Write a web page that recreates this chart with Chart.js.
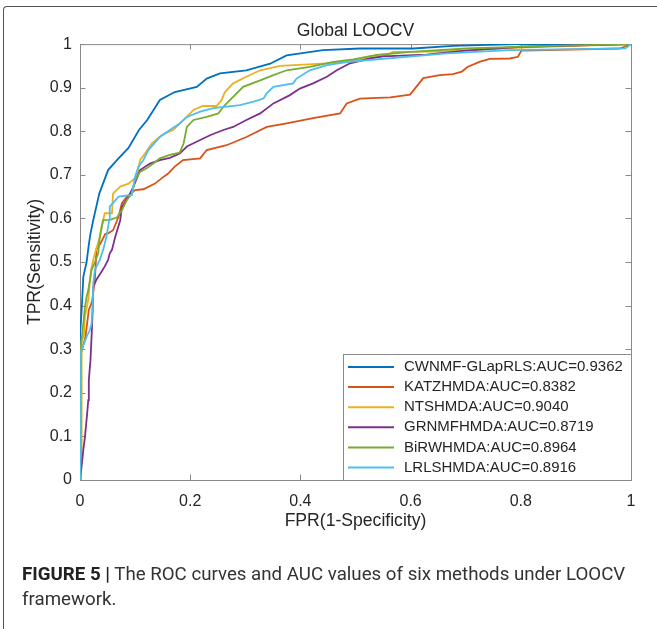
<!DOCTYPE html>
<html>
<head>
<meta charset="utf-8">
<script src="https://cdn.jsdelivr.net/npm/chart.js@4.4.1/dist/chart.umd.min.js"></script>
<style>
  body { margin: 0; background: #fff; }
  #wrap { position: relative; width: 657px; height: 629px; overflow: hidden; }
  #frame {
    position: absolute; left: 3px; top: 6px; width: 720px; height: 720px;
    border-left: 1.5px solid #555; border-top: 1.5px solid #555;
    border-top-left-radius: 4px;
  }
  #roc { position: absolute; left: 0; top: 0; }
  .caption {
    position: absolute; left: 22px; top: 562px; white-space: nowrap;
    font-family: Roboto, "Liberation Sans", sans-serif; font-size: 18.7px;
    line-height: 25px; color: #333;
  }
  .caption b { font-weight: bold; color: #222; }
</style>
</head>
<body>
<div id="wrap">
  <div id="frame"></div>
  <canvas id="roc" width="657" height="629"></canvas>
  <div class="caption"><b>FIGURE 5 |</b> The ROC curves and AUC values of six methods under LOOCV<br>framework.</div>
</div>
<script>
const methods = [
    'CWNMF-GLapRLS:AUC=0.9362',
    'KATZHMDA:AUC=0.8382',
    'NTSHMDA:AUC=0.9040',
    'GRNMFHMDA:AUC=0.8719',
    'BiRWHMDA:AUC=0.8964',
    'LRLSHMDA:AUC=0.8916'
];
const colors = ['#0072BD', '#D95319', '#EDB120', '#7E2F8E', '#77AC30', '#4DBEEE'];

// ROC points (false positive rate / true positive rate) per method
const cwnmfFpr = [0, 0, 0.003, 0.006, 0.012, 0.016, 0.019, 0.024, 0.035, 0.051, 0.067, 0.088, 0.107, 0.122, 0.145, 0.172, 0.212, 0.230, 0.254, 0.302, 0.345, 0.375, 0.441, 0.508, 0.605, 0.677, 0.79, 1];
const cwnmfTpr = [0, 0.33, 0.39, 0.466, 0.50, 0.54, 0.565, 0.596, 0.657, 0.711, 0.734, 0.762, 0.803, 0.826, 0.872, 0.890, 0.902, 0.921, 0.933, 0.94, 0.955, 0.974, 0.986, 0.99, 0.99, 0.996, 1, 1];

const katzFpr = [0, 0, 0.01, 0.016, 0.022, 0.027, 0.030, 0.036, 0.046, 0.051, 0.06, 0.07, 0.076, 0.085, 0.10, 0.115, 0.136, 0.148, 0.160, 0.172, 0.187, 0.218, 0.230, 0.266, 0.302, 0.339, 0.375, 0.423, 0.472, 0.484, 0.508, 0.563, 0.599, 0.623, 0.653, 0.677, 0.693, 0.704, 0.726, 0.744, 0.78, 0.795, 0.801, 0.98, 1];
const katzTpr = [0, 0.28, 0.33, 0.39, 0.41, 0.46, 0.53, 0.54, 0.565, 0.566, 0.573, 0.604, 0.635, 0.65, 0.665, 0.667, 0.68, 0.692, 0.703, 0.719, 0.734, 0.738, 0.757, 0.768, 0.787, 0.810, 0.818, 0.830, 0.841, 0.864, 0.875, 0.878, 0.884, 0.922, 0.929, 0.931, 0.937, 0.948, 0.960, 0.966, 0.967, 0.971, 0.985, 0.99, 1];

const ntshFpr = [0, 0.003, 0.003, 0.007, 0.009, 0.015, 0.020, 0.024, 0.029, 0.036, 0.039, 0.045, 0.058, 0.060, 0.073, 0.088, 0.103, 0.109, 0.118, 0.130, 0.148, 0.169, 0.188, 0.206, 0.223, 0.248, 0.257, 0.263, 0.278, 0.302, 0.327, 0.363, 0.448, 0.502, 0.557, 0.568, 0.653, 0.8, 1];
const ntshTpr = [0, 0.069, 0.321, 0.33, 0.375, 0.413, 0.482, 0.505, 0.528, 0.558, 0.581, 0.612, 0.612, 0.657, 0.673, 0.680, 0.696, 0.734, 0.749, 0.772, 0.791, 0.803, 0.826, 0.849, 0.858, 0.858, 0.872, 0.890, 0.910, 0.925, 0.940, 0.950, 0.956, 0.963, 0.975, 0.982, 0.983, 0.992, 1];

const grnmfFpr = [0, 0.001, 0.006, 0.009, 0.013, 0.015, 0.016, 0.019, 0.021, 0.023, 0.024, 0.030, 0.039, 0.045, 0.051, 0.054, 0.058, 0.064, 0.073, 0.076, 0.088, 0.097, 0.109, 0.127, 0.145, 0.163, 0.181, 0.194, 0.218, 0.236, 0.260, 0.278, 0.302, 0.327, 0.351, 0.381, 0.399, 0.423, 0.448, 0.466, 0.49, 0.526, 0.55, 0.629, 0.7, 0.8, 1];
const grnmfTpr = [0, 0.008, 0.069, 0.099, 0.153, 0.183, 0.229, 0.275, 0.329, 0.39, 0.443, 0.46, 0.478, 0.49, 0.505, 0.52, 0.528, 0.558, 0.596, 0.627, 0.65, 0.673, 0.711, 0.726, 0.734, 0.739, 0.749, 0.765, 0.78, 0.791, 0.803, 0.810, 0.826, 0.841, 0.864, 0.883, 0.898, 0.91, 0.925, 0.94, 0.956, 0.967, 0.972, 0.976, 0.985, 0.994, 1];

const birwFpr = [0, 0.001, 0.006, 0.009, 0.012, 0.015, 0.021, 0.027, 0.033, 0.036, 0.042, 0.054, 0.067, 0.076, 0.085, 0.094, 0.100, 0.109, 0.121, 0.133, 0.145, 0.163, 0.181, 0.188, 0.194, 0.206, 0.230, 0.251, 0.260, 0.278, 0.296, 0.327, 0.351, 0.375, 0.417, 0.460, 0.496, 0.538, 0.599, 0.702, 0.82, 1];
const birwTpr = [0, 0.30, 0.359, 0.397, 0.42, 0.436, 0.482, 0.50, 0.52, 0.558, 0.596, 0.597, 0.602, 0.619, 0.642, 0.657, 0.688, 0.707, 0.715, 0.726, 0.738, 0.746, 0.751, 0.772, 0.810, 0.826, 0.833, 0.841, 0.856, 0.879, 0.902, 0.917, 0.929, 0.940, 0.948, 0.959, 0.965, 0.975, 0.982, 0.99, 0.995, 1];

const lrlsFpr = [0, 0, 0.005, 0.012, 0.018, 0.021, 0.023, 0.024, 0.027, 0.036, 0.042, 0.048, 0.053, 0.054, 0.070, 0.094, 0.100, 0.106, 0.115, 0.124, 0.145, 0.163, 0.181, 0.194, 0.218, 0.242, 0.290, 0.315, 0.333, 0.339, 0.351, 0.387, 0.393, 0.417, 0.448, 0.484, 0.52, 0.665, 0.78, 0.99, 1];
const lrlsTpr = [0, 0.29, 0.306, 0.329, 0.344, 0.359, 0.405, 0.451, 0.482, 0.505, 0.528, 0.558, 0.596, 0.627, 0.650, 0.654, 0.696, 0.719, 0.734, 0.757, 0.787, 0.803, 0.818, 0.833, 0.845, 0.853, 0.860, 0.868, 0.875, 0.887, 0.902, 0.910, 0.921, 0.94, 0.952, 0.959, 0.963, 0.979, 0.986, 0.99, 1];

const fprSets = [cwnmfFpr, katzFpr, ntshFpr, grnmfFpr, birwFpr, lrlsFpr];
const tprSets = [cwnmfTpr, katzTpr, ntshTpr, grnmfTpr, birwTpr, lrlsTpr];

const FONT = '"Liberation Sans", Arial, sans-serif';
const TEXT = '#262626';
const AXIS = '#8a8a8a';

// box around the plot with inward ticks on all four sides (box on)
const axesBox = {
    id: 'axesBox',
    beforeDatasetsDraw(chart) {
        const { ctx, chartArea: a, scales: { x, y } } = chart;
        const len = 5.5;
        ctx.save();
        ctx.strokeStyle = AXIS;
        ctx.lineWidth = 1;
        ctx.strokeRect(a.left + 0.5, a.top + 0.5, a.width, a.height);
        ctx.beginPath();
        x.ticks.forEach(t => {
            const px = Math.round(x.getPixelForValue(t.value)) + 0.5;
            ctx.moveTo(px, a.bottom); ctx.lineTo(px, a.bottom - len);
            ctx.moveTo(px, a.top); ctx.lineTo(px, a.top + len);
        });
        y.ticks.forEach(t => {
            const py = Math.round(y.getPixelForValue(t.value)) + 0.5;
            ctx.moveTo(a.left, py); ctx.lineTo(a.left + len, py);
            ctx.moveTo(a.right, py); ctx.lineTo(a.right - len, py);
        });
        ctx.stroke();
        ctx.restore();
    }
};

// legend box in the lower right corner of the axes
const cornerLegend = {
    id: 'cornerLegend',
    afterDraw(chart) {
        const { ctx, chartArea: a } = chart;
        const w = 288, h = 126, rowH = 20.1;
        const left = a.right - w, top = a.bottom - h;
        ctx.save();
        ctx.fillStyle = '#fff';
        ctx.fillRect(left, top, w, h);
        ctx.strokeStyle = AXIS;
        ctx.lineWidth = 1;
        ctx.strokeRect(left + 0.5, top + 0.5, w, h);
        ctx.font = '15px ' + FONT;
        ctx.textBaseline = 'middle';
        chart.data.datasets.forEach((ds, i) => {
            const cy = top + 13 + i * rowH;
            ctx.strokeStyle = ds.borderColor;
            ctx.lineWidth = 2;
            ctx.beginPath();
            ctx.moveTo(left + 5, cy);
            ctx.lineTo(left + 51, cy);
            ctx.stroke();
            ctx.fillStyle = TEXT;
            ctx.fillText(ds.label, left + 61, cy);
        });
        ctx.restore();
    }
};

const datasets = methods.map((name, i) => ({
    label: name,
    data: fprSets[i].map((v, j) => ({ x: v, y: tprSets[i][j] })),
    borderColor: colors[i],
    borderWidth: 1.8,
    pointRadius: 0,
    showLine: true,
    tension: 0,
    order: methods.length - i
}));

new Chart(document.getElementById('roc'), {
    type: 'scatter',
    data: { datasets },
    options: {
        responsive: false,
        animation: false,
        layout: { padding: { left: 20, right: 26, top: 21, bottom: 89 } },
        plugins: {
            legend: { display: false },
            tooltip: { enabled: false },
            title: {
                display: true,
                text: 'Global LOOCV',
                fullSize: false,
                color: TEXT,
                font: { family: FONT, size: 17.6, weight: 'normal' },
                padding: { top: 0, bottom: 2 }
            }
        },
        scales: {
            x: {
                type: 'linear', min: 0, max: 1,
                grid: { display: false, drawTicks: false },
                border: { display: false },
                ticks: {
                    stepSize: 0.2, padding: 12, color: TEXT,
                    font: { family: FONT, size: 16 },
                    callback: v => String(+v.toFixed(1))
                },
                title: {
                    display: true, text: 'FPR(1-Specificity)', color: TEXT,
                    font: { family: FONT, size: 17.6 },
                    padding: { top: 0, bottom: 8.4 }
                },
                afterFit: s => { s.height = 60; }
            },
            y: {
                type: 'linear', min: 0, max: 1,
                grid: { display: false, drawTicks: false },
                border: { display: false },
                ticks: {
                    stepSize: 0.1, padding: 8, color: TEXT,
                    font: { family: FONT, size: 16 },
                    callback: v => String(+v.toFixed(1))
                },
                title: {
                    display: true, text: 'TPR(Sensitivity)', color: TEXT,
                    font: { family: FONT, size: 17.6 },
                    padding: { top: 4.4, bottom: 0 }
                },
                afterFit: s => { s.width = 60; }
            }
        }
    },
    plugins: [axesBox, cornerLegend]
});
</script>
</body>
</html>
